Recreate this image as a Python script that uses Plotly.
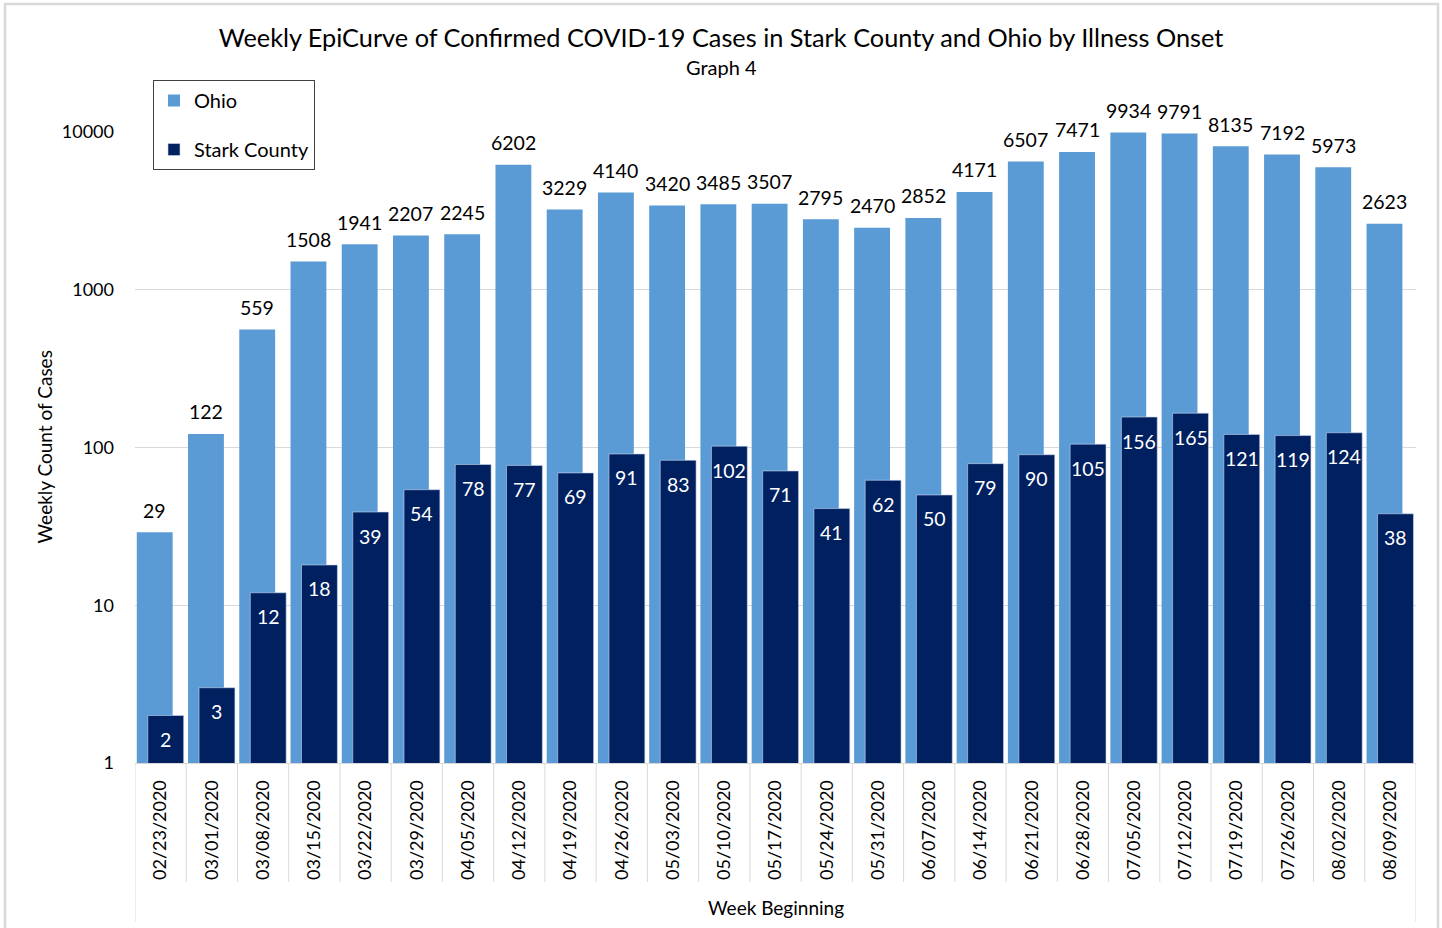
import math
import plotly.graph_objects as go

weeks = ["02/23/2020", "03/01/2020", "03/08/2020", "03/15/2020", "03/22/2020",
         "03/29/2020", "04/05/2020", "04/12/2020", "04/19/2020", "04/26/2020",
         "05/03/2020", "05/10/2020", "05/17/2020", "05/24/2020", "05/31/2020",
         "06/07/2020", "06/14/2020", "06/21/2020", "06/28/2020", "07/05/2020",
         "07/12/2020", "07/19/2020", "07/26/2020", "08/02/2020", "08/09/2020"]
ohio = [29, 122, 559, 1508, 1941, 2207, 2245, 6202, 3229, 4140, 3420, 3485, 3507,
        2795, 2470, 2852, 4171, 6507, 7471, 9934, 9791, 8135, 7192, 5973, 2623]
stark = [2, 3, 12, 18, 39, 54, 78, 77, 69, 91, 83, 102, 71, 41, 62, 50, 79, 90,
         105, 156, 165, 121, 119, 124, 38]
ytick_vals = [1, 10, 100, 1000, 10000]
ytick_text = ["1", "10", "100", "1000", "10000"]

FONT = "Lato"
OHIO_C = "#5B9BD5"
STARK_C = "#002060"
GRID_C = "#D9D9D9"

W, H = 1442, 928
L, R, T, B = 135, 1416, 132, 763
PW, PH = R - L, B - T


def fx(px):
    return (px - L) / PW


def fy(py):
    return 1 - (py - T) / PH


BAR_W = 0.70
OHIO_OFF = -0.465
STARK_OFF = -0.25
cat_px = PW / len(weeks)

fig = go.Figure()
fig.add_trace(go.Bar(
    x=weeks, y=ohio, name="Ohio", marker=dict(color=OHIO_C, line=dict(width=0)),
    width=BAR_W, offset=OHIO_OFF, legendgroup="a"))
fig.add_trace(go.Bar(
    x=weeks, y=stark, name="Stark County",
    marker=dict(color=STARK_C, line=dict(width=1, color="rgba(200,215,240,0.6)")),
    width=BAR_W, offset=STARK_OFF, legendgroup="b"))

annotations = []
ohio_shift = (OHIO_OFF + BAR_W / 2) * cat_px
stark_shift = (STARK_OFF + BAR_W / 2) * cat_px
for w, v in zip(weeks, ohio):
    annotations.append(dict(x=w, y=math.log10(v), text=str(v), showarrow=False,
                            xshift=ohio_shift, yshift=22, yanchor="middle",
                            font=dict(family=FONT, size=19.5, color="#000000")))
for w, v in zip(weeks, stark):
    annotations.append(dict(x=w, y=math.log10(v), text=str(v), showarrow=False,
                            xshift=stark_shift, yshift=-24, yanchor="middle",
                            font=dict(family=FONT, size=19.5, color="#FFFFFF")))

annotations.append(dict(xref="paper", yref="paper", x=fx(721), y=fy(67),
                        text="Graph 4", showarrow=False, yanchor="middle",
                        xanchor="center",
                        font=dict(family=FONT, size=20, color="#000000")))
annotations.append(dict(xref="paper", yref="paper", x=fx(44), y=0.5,
                        text="Weekly Count of Cases", showarrow=False,
                        textangle=-90, xanchor="center", yanchor="middle",
                        font=dict(family=FONT, size=19, color="#000000")))
annotations.append(dict(xref="paper", yref="paper", x=0.5, y=fy(908),
                        text="Week Beginning", showarrow=False,
                        xanchor="center", yanchor="middle",
                        font=dict(family=FONT, size=19, color="#000000")))

shapes = []
for i in range(len(weeks) + 1):
    edge = i == 0 or i == len(weeks)
    shapes.append(dict(type="line", xref="x", yref="paper",
                       x0=i - 0.5, x1=i - 0.5, y0=0,
                       y1=fy(921.7) if edge else fy(882),
                       line=dict(color=GRID_C, width=1)))
shapes.append(dict(type="rect", xref="paper", yref="paper",
                   x0=fx(5), x1=fx(1438), y0=fy(940), y1=fy(4),
                   line=dict(color=GRID_C, width=2.5), layer="below"))

fig.update_layout(
    width=W, height=H,
    margin=dict(l=L, r=W - R, t=T, b=H - B, pad=0),
    paper_bgcolor="white", plot_bgcolor="white",
    barmode="overlay",
    font=dict(family=FONT, color="#000000"),
    title=dict(text="Weekly EpiCurve of Confirmed COVID-19 Cases in Stark County and Ohio by Illness Onset",
               x=0.5, xanchor="center", y=1 - 38 / H, yanchor="middle",
               font=dict(family=FONT, size=25.3, color="#000000")),
    legend=dict(x=fx(153), y=fy(80), xanchor="left", yanchor="top",
                bgcolor="white", bordercolor="#404040", borderwidth=1,
                font=dict(family=FONT, size=20, color="#000000"),
                tracegroupgap=20, traceorder="grouped"),
    annotations=annotations,
    shapes=shapes,
    showlegend=True,
)
fig.update_xaxes(type="category", range=[-0.5, len(weeks) - 0.5],
                 tickangle=-90, ticks="", showgrid=False,
                 showline=True, linecolor=GRID_C, linewidth=1,
                 ticklabelstandoff=9,
                 tickfont=dict(family=FONT, size=18, color="#000000"))
fig.update_yaxes(type="log", range=[0, 4], tickvals=ytick_vals, ticktext=ytick_text,
                 showgrid=True, gridcolor=GRID_C, gridwidth=1, ticks="",
                 showline=False, zeroline=False, ticklabelstandoff=20,
                 tickfont=dict(family=FONT, size=18, color="#000000"))

fig.write_html("out.html", config={"displayModeBar": False},
               post_script="document.body.style.margin='0';")
